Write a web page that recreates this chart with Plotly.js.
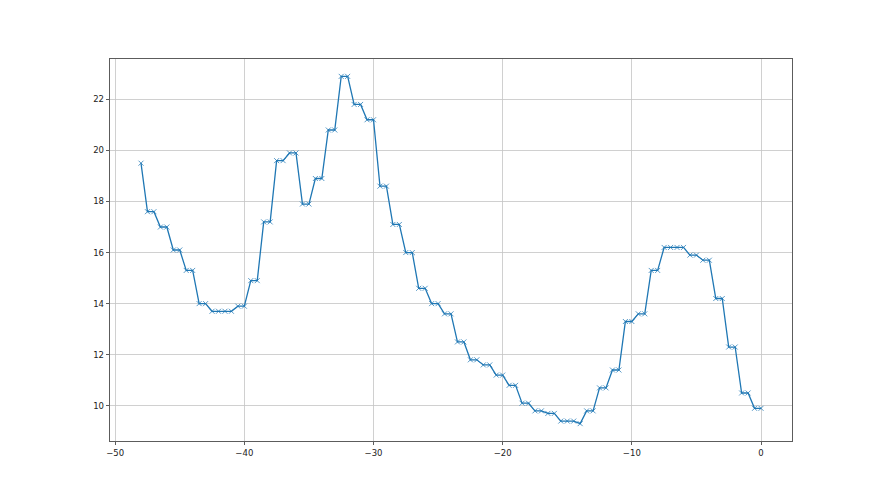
<!DOCTYPE html>
<html>
<head>
<meta charset="utf-8">
<script src="https://cdn.plot.ly/plotly-3.0.1.min.js"></script>
<style>html,body{margin:0;padding:0;background:#fff;}#chart{width:880px;height:495px;}</style>
</head>
<body>
<div id="chart"></div>
<script>
const xValues = [-48,-47.5,-47,-46.5,-46,-45.5,-45,-44.5,-44,-43.5,-43,-42.5,-42,-41.5,-41,-40.5,-40,-39.5,-39,-38.5,-38,-37.5,-37,-36.5,-36,-35.5,-35,-34.5,-34,-33.5,-33,-32.5,-32,-31.5,-31,-30.5,-30,-29.5,-29,-28.5,-28,-27.5,-27,-26.5,-26,-25.5,-25,-24.5,-24,-23.5,-23,-22.5,-22,-21.5,-21,-20.5,-20,-19.5,-19,-18.5,-18,-17.5,-17,-16.5,-16,-15.5,-15,-14.5,-14,-13.5,-13,-12.5,-12,-11.5,-11,-10.5,-10,-9.5,-9,-8.5,-8,-7.5,-7,-6.5,-6,-5.5,-5,-4.5,-4,-3.5,-3,-2.5,-2,-1.5,-1,-0.5,0];
const yValues = [19.5,17.6,17.6,17.0,17.0,16.1,16.1,15.3,15.3,14.0,14.0,13.7,13.7,13.7,13.7,13.9,13.9,14.9,14.9,17.2,17.2,19.6,19.6,19.9,19.9,17.9,17.9,18.9,18.9,20.8,20.8,22.9,22.9,21.8,21.8,21.2,21.2,18.6,18.6,17.1,17.1,16.0,16.0,14.6,14.6,14.0,14.0,13.6,13.6,12.5,12.5,11.8,11.8,11.6,11.6,11.2,11.2,10.8,10.8,10.1,10.1,9.8,9.8,9.7,9.7,9.4,9.4,9.4,9.3,9.8,9.8,10.7,10.7,11.4,11.4,13.3,13.3,13.6,13.6,15.3,15.3,16.2,16.2,16.2,16.2,15.9,15.9,15.7,15.7,14.2,14.2,12.3,12.3,10.5,10.5,9.9,9.9];
const xTicks = [-50,-40,-30,-20,-10,0];
const yTicks = [10,12,14,16,18,20,22];

const trace = {
  x: xValues, y: yValues, type: 'scatter', mode: 'lines+markers',
  line: {color: '#1f77b4', width: 1.3},
  marker: {symbol: 'x-thin', size: 5, color: '#1f77b4', line: {color: 'rgba(31,119,180,0.75)', width: 1}}
};
const axisCommon = {
  showline: true, mirror: true, linecolor: '#333', linewidth: 0.8,
  ticks: 'outside', ticklen: 3.5, tickwidth: 0.8, tickcolor: '#333',
  showgrid: true, gridcolor: '#c4c4c4', gridwidth: 0.8, zeroline: false,
  tickfont: {family: 'DejaVu Sans', size: 8.5, color: '#222'}
};
const layout = {
  width: 880, height: 495,
  margin: {l: 110, r: 88, t: 59, b: 54},
  paper_bgcolor: '#fff', plot_bgcolor: '#fff',
  showlegend: false,
  xaxis: Object.assign({}, axisCommon, {range: [-50.4, 2.4], tickvals: xTicks}),
  yaxis: Object.assign({}, axisCommon, {range: [8.62, 23.58], tickvals: yTicks})
};
Plotly.newPlot('chart', [trace], layout, {displayModeBar: false, staticPlot: true});
</script>
</body>
</html>
